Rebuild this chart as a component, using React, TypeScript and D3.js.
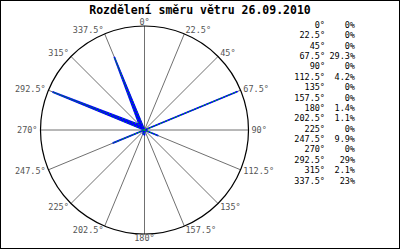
import React from "react";
import * as d3 from "d3";

const title = "Rozdělení směru větru 26.09.2010";
const directions = [0, 22.5, 45, 67.5, 90, 112.5, 135, 157.5, 180, 202.5, 225, 247.5, 270, 292.5, 315, 337.5];
const dirLabels = ["0°", "22.5°", "45°", "67.5°", "90°", "112.5°", "135°", "157.5°", "180°", "202.5°", "225°", "247.5°", "270°", "292.5°", "315°", "337.5°"];
const values = [0, 0, 0, 29.3, 0, 4.2, 0, 0, 1.4, 1.1, 0, 9.9, 0, 29, 2.1, 23];
const valueLabels = ["0%", "0%", "0%", "29.3%", "0%", "4.2%", "0%", "0%", "1.4%", "1.1%", "0%", "9.9%", "0%", "29%", "2.1%", "23%"];

const W = 400, H = 250;
const cx = 144.5, cy = 130, R = 104;

export default function App() {
  const r = d3.scaleLinear().domain([0, 29.3]).range([0, 100]);
  const ang = d3.scaleLinear().domain([0, 360]).range([0, 2 * Math.PI]);
  const pt = (deg: number, rad: number): [number, number] => [
    cx + rad * Math.sin(ang(deg)),
    cy - rad * Math.cos(ang(deg)),
  ];
  const polyPts = directions.map((d, i) => pt(d, r(values[i])));
  const line = d3.line().curve(d3.curveLinearClosed);
  const path = line(polyPts) || "";
  const legendY = d3.scaleLinear().domain([0, 15]).range([25, 180.5]);
  const mono = "'DejaVu Sans Mono', 'Liberation Mono', monospace";

  return (
    <svg width={W} height={H} style={{ position: "absolute", left: 0, top: 0, background: "#fff" }}>
      <rect x={0.5} y={0.5} width={W - 1} height={H - 2} fill="#fff" stroke="#000" />
      <text x={200} y={9.5} textAnchor="middle" dominantBaseline="central" fontFamily={mono} fontWeight="bold" fontSize={11.5} fill="#000">
        {title}
      </text>
      {directions.map((d, i) => {
        const [x, y] = pt(d, R);
        return <line key={"s" + i} x1={cx} y1={cy} x2={x} y2={y} stroke="#707070" strokeWidth={1} />;
      })}
      <circle cx={cx} cy={cy} r={R} fill="none" stroke="#000" strokeWidth={1.2} />
      <path d={path} fill="#0000ff" stroke="#0000ff" strokeWidth={1.8} strokeLinejoin="round" />
      <path d={path} fill="none" stroke="#00cc00" strokeWidth={1} strokeDasharray="1,2.5" />
      {directions.map((d, i) => {
        const [x, y] = pt(d, R);
        const s = Math.sin(ang(d));
        const c = Math.cos(ang(d));
        const anchor = Math.abs(s) < 0.01 ? "middle" : s > 0 ? "start" : "end";
        return (
          <text key={"l" + i} x={x + s * 3} y={y - c * 4.2} textAnchor={anchor} dominantBaseline="central" fontFamily={mono} fontSize={8.5} fill="#555">
            {dirLabels[i]}
          </text>
        );
      })}
      {directions.map((d, i) => (
        <g key={"g" + i}>
          <text x={325} y={legendY(i)} textAnchor="end" dominantBaseline="central" fontFamily={mono} fontSize={8.5} fill="#000">
            {dirLabels[i]}
          </text>
          <text x={355} y={legendY(i)} textAnchor="end" dominantBaseline="central" fontFamily={mono} fontSize={8.5} fill="#000">
            {valueLabels[i]}
          </text>
        </g>
      ))}
    </svg>
  );
}
